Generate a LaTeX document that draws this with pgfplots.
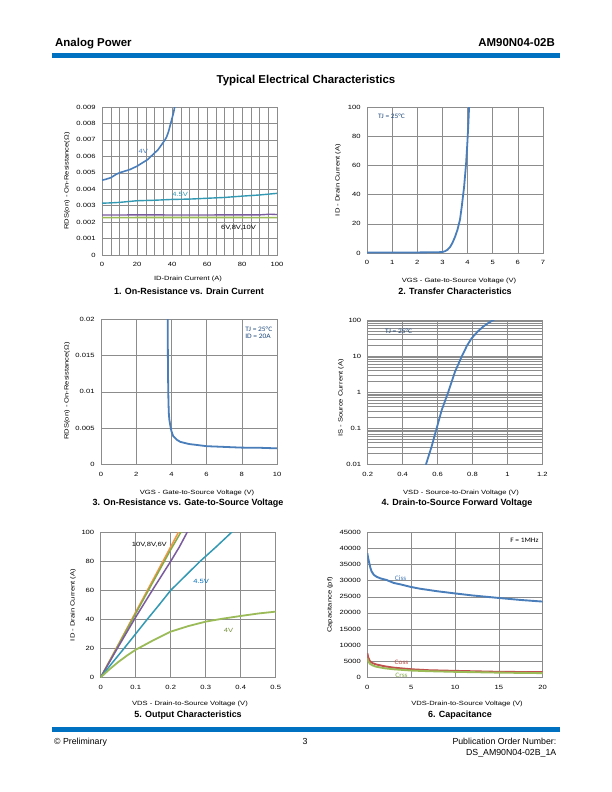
\documentclass[border=0pt]{standalone}
\usepackage{pgfplots}
\pgfplotsset{compat=1.18}
\usepackage{fontspec}
\setmainfont{Liberation Sans}
\newfontfamily\tickf[FakeStretch=1.25]{Liberation Sans}
\newfontfamily\calf[FakeStretch=1.1]{Carlito}
\newcommand\tf{\tickf\fontsize{6.1}{7}\selectfont}
\newcommand\cf{\calf\fontsize{6.8}{8}\selectfont}
\newcommand\ttl{\bfseries\fontsize{9}{11}\selectfont}
\definecolor{hdrblue}{HTML}{0070C0}
\definecolor{sblue}{HTML}{4A7EBB}
\definecolor{steal}{HTML}{3399B3}
\definecolor{spurple}{HTML}{7A5C9E}
\definecolor{sgreen}{HTML}{9BBB59}
\definecolor{sgreen2}{HTML}{86AA4A}
\definecolor{sorange}{HTML}{F79646}
\definecolor{sred}{HTML}{C0504D}
\definecolor{annblue}{HTML}{1F497D}
\definecolor{gridc}{HTML}{8C8C8C}
\definecolor{olivec}{HTML}{77933C}
\pgfplotsset{dsaxis/.style={scale only axis, anchor=south west,
  axis line style={gridc, line width=0.6bp},
  major grid style={gridc, line width=0.5bp},
  minor grid style={gridc, line width=0.5bp},
  major tick length=0pt, minor tick length=0pt,
  tick label style={font=\tf},
  xticklabel style={yshift=-4bp},
  yticklabel style={xshift=-3bp},
  scaled ticks=false,
  /pgf/number format/assume math mode=true,
  /pgf/number format/1000 sep={},
  clip=true}}
\begin{document}
\begin{tikzpicture}
\path[use as bounding box, fill=white] (0,0) rectangle (612bp,-792bp);
% header
\node[anchor=base west, font=\bfseries\fontsize{11.5}{13}\selectfont, inner sep=0] at (55bp,-46bp) {Analog Power};
\node[anchor=base east, font=\bfseries\fontsize{11.5}{13}\selectfont, inner sep=0] at (555bp,-46bp) {AM90N04-02B};
\fill[hdrblue] (52bp,-52.5bp) rectangle (560bp,-57.5bp);
\node[anchor=base, font=\bfseries\fontsize{11.5}{13}\selectfont, inner sep=0] at (306bp,-83.5bp) {Typical Electrical Characteristics};
% footer
\fill[hdrblue] (52bp,-726.7bp) rectangle (560bp,-731.9bp);
\node[anchor=base west, font=\fontsize{8.8}{10}\selectfont, inner sep=0] at (54bp,-744bp) {© Preliminary};
\node[anchor=base, font=\fontsize{8.8}{10}\selectfont, inner sep=0] at (305bp,-744bp) {3};
\node[anchor=base east, font=\fontsize{8.8}{10}\selectfont, inner sep=0] at (556.5bp,-744bp) {Publication Order Number:};
\node[anchor=base east, font=\fontsize{8.8}{10}\selectfont, inner sep=0] at (556.5bp,-755.5bp) {DS\_AM90N04-02B\_1A};

% ===== Chart 1 =====
\begin{axis}[dsaxis, at={(102bp,-255bp)}, width=175bp, height=148bp,
  xmin=0, xmax=100, ymin=0, ymax=0.009,
  xtick={0,20,40,60,80,100}, minor x tick num=3, grid=both,
  ytick={0,0.001,0.002,0.003,0.004,0.005,0.006,0.007,0.008,0.009},
  yticklabels={0,0.001,0.002,0.003,0.004,0.005,0.006,0.007,0.008,0.009}]
\addplot[sorange, line width=1.4bp] coordinates {(0,0.00229)(50,0.00229)(100,0.00229)};
\addplot[sgreen, line width=1.6bp] coordinates {(0,0.00227)(25,0.00228)(50,0.00228)(75,0.00228)(100,0.00227)};
\addplot[spurple, line width=1.4bp] coordinates {(0,0.00243)(25,0.00244)(50,0.00243)(75,0.00244)(90,0.00244)(96,0.00248)(100,0.00246)};
\addplot[steal, line width=1.4bp] coordinates {(0,0.00315)(5,0.00317)(10,0.0032)(20,0.0033)(30,0.00333)(40,0.00338)(50,0.0034)(60,0.00345)(70,0.0035)(80,0.00358)(90,0.00365)(95,0.0037)(100,0.00375)};
\addplot[sblue, line width=1.6bp] coordinates {(0,0.00455)(2,0.0046)(5,0.0047)(8,0.0049)(10,0.0050)(13,0.0051)(16,0.0052)(20,0.0054)(23,0.0056)(26,0.0058)(28,0.0060)(30,0.0062)(32,0.0064)(34,0.0067)(36,0.0070)(37,0.0072)(38,0.0075)(39,0.0079)(40,0.0083)(41,0.0087)(41.5,0.0090)(42,0.0093)};
\node[font=\tf, text=sblue] at (axis cs:23.6,0.00628) {4V};
\node[font=\tf, text=steal] at (axis cs:44.7,0.00369) {4.5V};
\node[font=\tf] at (axis cs:78,0.00166) {6V,8V,10V};
\end{axis}
\node[rotate=90, font=\tf] at (67bp,-181bp) {RDS(on) - On-Resistance(Ω)};
\node[anchor=base, font=\tf, inner sep=0] at (188bp,-280bp) {ID-Drain Current (A)};
\node[anchor=base, font=\ttl, inner sep=0] at (189bp,-294bp) {1. On-Resistance vs. Drain Current};

% ===== Chart 2 =====
\begin{axis}[dsaxis, at={(367bp,-253bp)}, width=176bp, height=146bp,
  xmin=0, xmax=7, ymin=0, ymax=100, grid=major,
  xtick={0,1,2,3,4,5,6,7}, ytick={0,20,40,60,80,100}]
\addplot[sblue, line width=1.8bp] coordinates {(0,0.4)(1,0.4)(2,0.4)(2.8,0.5)(3.0,0.7)(3.1,1.2)(3.2,2.2)(3.3,4)(3.4,7)(3.5,11)(3.6,16)(3.7,23)(3.77,32)(3.86,45)(3.94,61)(3.99,75)(4.03,88)(4.06,100)(4.07,103)};
\node[font=\cf, text=annblue, anchor=west] at (axis cs:0.3,93.6) {TJ = 25°C};
\end{axis}
\node[rotate=90, font=\tf] at (338bp,-180bp) {ID - Drain Current (A)};
\node[anchor=base, font=\tf, inner sep=0] at (459bp,-282bp) {VGS - Gate-to-Source Voltage (V)};
\node[anchor=base, font=\ttl, inner sep=0] at (455bp,-294bp) {2. Transfer Characteristics};

% ===== Chart 3 =====
\begin{axis}[dsaxis, at={(101bp,-464.3bp)}, width=176bp, height=145bp,
  xmin=0, xmax=10, ymin=0, ymax=0.02, grid=major,
  xtick={0,2,4,6,8,10}, ytick={0,0.005,0.01,0.015,0.02},
  yticklabels={0,0.005,0.01,0.015,0.02}]
\addplot[sblue, line width=1.8bp] coordinates {(3.78,0.021)(3.79,0.02)(3.80,0.015)(3.81,0.012)(3.83,0.0090)(3.85,0.0072)(3.88,0.0062)(3.94,0.0053)(4.0,0.0046)(4.1,0.0039)(4.3,0.0034)(4.5,0.0031)(5,0.0028)(5.5,0.00265)(6,0.0025)(7,0.0024)(8,0.0023)(9,0.00228)(10,0.0022)};
\node[font=\cf, text=annblue, anchor=west] at (axis cs:8.0,0.0186) {TJ = 25°C};
\node[font=\cf, text=annblue, anchor=west] at (axis cs:8.0,0.0176) {ID = 20A};
\end{axis}
\node[rotate=90, font=\tf] at (67bp,-391bp) {RDS(on) - On-Resistance(Ω)};
\node[anchor=base, font=\tf, inner sep=0] at (197bp,-494bp) {VGS - Gate-to-Source Voltage (V)};
\node[anchor=base, font=\ttl, inner sep=0] at (188bp,-505bp) {3. On-Resistance vs. Gate-to-Source Voltage};

% ===== Chart 4 =====
\begin{axis}[dsaxis, at={(367.7bp,-464.3bp)}, width=174.6bp, height=144.3bp,
  ymode=log, xmin=0.2, xmax=1.2, ymin=0.01, ymax=100, grid=both,
  xtick={0.2,0.4,0.6,0.8,1,1.2}, xticklabels={0.2,0.4,0.6,0.8,1,1.2},
  ytick={0.01,0.1,1,10,100}, yticklabels={0.01,0.1,1,10,100}]
\addplot[sblue, line width=1.8bp] coordinates {(0.53,0.0085)(0.534,0.01)(0.566,0.031)(0.595,0.1)(0.624,0.32)(0.662,1.03)(0.70,3.7)(0.738,9.6)(0.77,20)(0.795,31)(0.83,48)(0.862,66)(0.89,82)(0.92,100)(0.93,108)};
\node[font=\cf, text=annblue, anchor=west] at (axis cs:0.28,49) {TJ = 25°C};
\end{axis}
\node[rotate=90, font=\tf] at (341bp,-398bp) {IS - Source Current (A)};
\node[anchor=base, font=\tf, inner sep=0] at (461bp,-494bp) {VSD - Source-to-Drain Voltage (V)};
\node[anchor=base, font=\ttl, inner sep=0] at (457bp,-505bp) {4. Drain-to-Source Forward Voltage};

% ===== Chart 5 =====
\begin{axis}[dsaxis, at={(100.7bp,-677.3bp)}, width=175bp, height=145bp,
  xmin=0, xmax=0.5, ymin=0, ymax=100, grid=major,
  xtick={0,0.1,0.2,0.3,0.4,0.5}, xticklabels={0,0.1,0.2,0.3,0.4,0.5},
  ytick={0,20,40,60,80,100}]
\addplot[sorange, line width=1.5bp] coordinates {(0,0)(0.05,22.5)(0.1,45)(0.15,67.5)(0.2,90)(0.222,100)(0.225,101.5)};
\addplot[sgreen2, line width=1.5bp] coordinates {(0,0)(0.05,22)(0.1,44)(0.15,66)(0.2,88)(0.229,100)(0.232,101.5)};
\addplot[spurple, line width=1.5bp] coordinates {(0,0)(0.05,21)(0.1,41.5)(0.15,61)(0.2,80)(0.225,90)(0.247,100)(0.25,101.5)};
\addplot[steal, line width=1.5bp] coordinates {(0,0)(0.033,10)(0.067,20)(0.1,30)(0.133,40)(0.167,50)(0.2,60)(0.242,70)(0.284,80)(0.33,90)(0.374,100)(0.378,101)};
\addplot[sgreen, line width=1.8bp] coordinates {(0,0)(0.025,5.5)(0.05,10.5)(0.075,15)(0.1,19)(0.15,25.5)(0.2,31.5)(0.25,35.3)(0.3,38.4)(0.35,40.5)(0.4,42.3)(0.45,44)(0.5,45.3)};
\node[font=\tf] at (axis cs:0.139,91.7) {10V,8V,6V};
\node[font=\tf, text=hdrblue] at (axis cs:0.287,66.4) {4.5V};
\node[font=\tf, text=olivec] at (axis cs:0.365,32.6) {4V};
\end{axis}
\node[rotate=90, font=\tf] at (73bp,-605bp) {ID - Drain Current (A)};
\node[anchor=base, font=\tf, inner sep=0] at (190bp,-705.5bp) {VDS - Drain-to-Source Voltage (V)};
\node[anchor=base, font=\ttl, inner sep=0] at (188bp,-717bp) {5. Output Characteristics};

% ===== Chart 6 =====
\begin{axis}[dsaxis, at={(367.3bp,-677.3bp)}, width=175.4bp, height=145bp,
  xmin=0, xmax=20, ymin=0, ymax=45000, grid=major,
  xtick={0,5,10,15,20},
  ytick={0,5000,10000,15000,20000,25000,30000,35000,40000,45000}]
\addplot[sblue, line width=1.9bp] coordinates {(0,38500)(0.1,37000)(0.23,35400)(0.35,34000)(0.5,32800)(0.75,31800)(1.06,31200)(1.5,30700)(2.2,30200)(3,29300)(4,28700)(4.87,28100)(6,27500)(8,26700)(9.8,26100)(12,25400)(15.1,24600)(17.5,24000)(20,23500)};
\addplot[sred, line width=1.9bp] coordinates {(0,7500)(0.1,6200)(0.3,5000)(0.6,4400)(1,4000)(2,3400)(3,3000)(5,2500)(7,2200)(10,2000)(15,1700)(20,1600)};
\addplot[sgreen, line width=1.9bp] coordinates {(0,6000)(0.1,5000)(0.3,4200)(0.6,3700)(1,3300)(2,2800)(3,2500)(5,2100)(7,1900)(10,1700)(15,1450)(20,1300)};
\node[font=\cf, text=sblue] at (axis cs:3.8,30900) {Ciss};
\node[font=\cf, text=sred] at (axis cs:3.9,4530) {Coss};
\node[font=\cf, text=sgreen2] at (axis cs:3.9,750) {Crss};
\node[font=\cf, anchor=west] at (axis cs:15.9,42400) {F = 1MHz};
\end{axis}
\node[rotate=90, font=\tf] at (330bp,-605bp) {Capacitance (pf)};
\node[anchor=base, font=\tf, inner sep=0] at (467bp,-705.5bp) {VDS-Drain-to-Source Voltage (V)};
\node[anchor=base, font=\ttl, inner sep=0] at (460bp,-717bp) {6. Capacitance};
\end{tikzpicture}
\end{document}
